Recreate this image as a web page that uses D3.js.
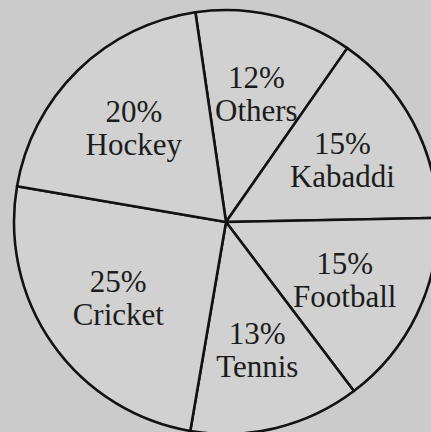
<!DOCTYPE html>
<html>
<head>
<meta charset="utf-8">
<script src="https://cdn.jsdelivr.net/npm/d3@7"></script>
<style>
  html, body { margin: 0; padding: 0; background: #cbcbcb; }
  svg { display: block; }
</style>
</head>
<body>
<svg id="chart"></svg>
<script>
// Pie data, clockwise starting from "Others"
const sports = ["Others", "Kabaddi", "Football", "Tennis", "Cricket", "Hockey"];
const shares = [12, 15, 15, 13, 25, 20];

const width = 431;
const height = 432;
const cx = 226;
const cy = 222;
const radius = 212;
const labelRadius = 132;
const startDeg = -8.3;

const svg = d3.select("#chart")
    .attr("width", width)
    .attr("height", height);

svg.append("rect")
    .attr("width", width)
    .attr("height", height)
    .attr("fill", "#cbcbcb");

const chart = svg.append("g")
    .attr("transform", `translate(${cx},${cy})`);

const data = sports.map((s, i) => ({ sport: s, value: shares[i] }));

const start = startDeg * Math.PI / 180;
const pie = d3.pie()
    .sort(null)
    .value(d => d.value)
    .startAngle(start)
    .endAngle(start + 2 * Math.PI);

const arcs = pie(data);

const arc = d3.arc().innerRadius(0).outerRadius(radius);
const labelArc = d3.arc().innerRadius(labelRadius).outerRadius(labelRadius);

// Slices
chart.selectAll("path.slice")
    .data(arcs)
  .join("path")
    .attr("class", "slice")
    .attr("d", arc)
    .attr("fill", "#d1d1d1")
    .attr("stroke", "#121212")
    .attr("stroke-width", 2.6)
    .attr("stroke-linejoin", "round");

// Labels
const labels = chart.selectAll("text.label")
    .data(arcs)
  .join("text")
    .attr("class", "label")
    .attr("transform", d => `translate(${labelArc.centroid(d)})`)
    .attr("text-anchor", "middle")
    .attr("font-family", "'Liberation Serif', 'Times New Roman', serif")
    .attr("font-size", 31)
    .attr("fill", "#1c1c1c");

labels.append("tspan")
    .attr("x", 0)
    .attr("dy", -6)
    .text(d => d.data.value + "%");

labels.append("tspan")
    .attr("x", 0)
    .attr("dy", 33)
    .text(d => d.data.sport);
</script>
</body>
</html>
